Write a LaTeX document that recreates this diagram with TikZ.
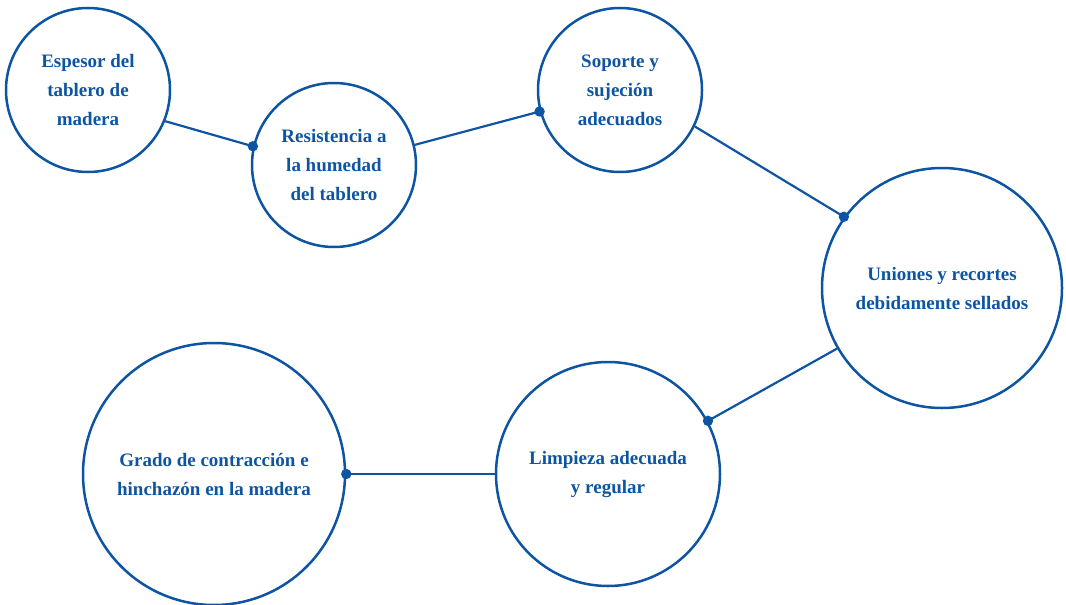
\documentclass[tikz,border=0pt]{standalone}
\usepackage{fontspec}
\setmainfont{Liberation Serif}
\definecolor{FlowClr}{rgb}{0.05,0.33,0.64}

\begin{document}
\begin{tikzpicture}[x=0.5pt,y=-0.5pt,
  topic/.style={circle,draw=FlowClr,line width=1.25pt,inner sep=0pt,
    text=FlowClr,align=center,font=\fontsize{9.5}{14.5}\selectfont\bfseries},
  link/.style={draw=FlowClr,line width=1.1pt},
  joint/.style={fill=FlowClr}]
\useasboundingbox (0,0) rectangle (1066,605);

\node[topic,minimum size=82pt] (Espesor) at (88,90) {Espesor del\\tablero de\\madera};
\node[topic,minimum size=82pt] (Humedad) at (334,165) {Resistencia a\\la humedad\\del tablero};
\node[topic,minimum size=82pt] (Soporte) at (620,90) {Soporte y\\sujeción\\adecuados};
\node[topic,minimum size=120pt] (Uniones) at (942,288) {Uniones y recortes\\debidamente sellados};
\node[topic,minimum size=112pt] (Limpieza) at (608,474) {Limpieza adecuada\\y regular};
\node[topic,minimum size=131pt] (Grado) at (214,474) {Grado de contracción e\\hinchazón en la madera};

\draw[link] (Espesor.-22) -- (Humedad.167.5);
\draw[link] (Humedad.14) -- (Soporte.-165.8);
\draw[link] (Soporte.-26.9) -- (Uniones.144.9);
\draw[link] (Uniones.-150) -- (Limpieza.28.6);
\draw[link] (Limpieza.180) -- (Grado.0);

\fill[joint] (Humedad.167.5) circle (2.6pt);
\fill[joint] (Soporte.-165.8) circle (2.6pt);
\fill[joint] (Uniones.144.9) circle (2.6pt);
\fill[joint] (Limpieza.28.6) circle (2.6pt);
\fill[joint] (Grado.0) circle (2.6pt);

\end{tikzpicture}
\end{document}
